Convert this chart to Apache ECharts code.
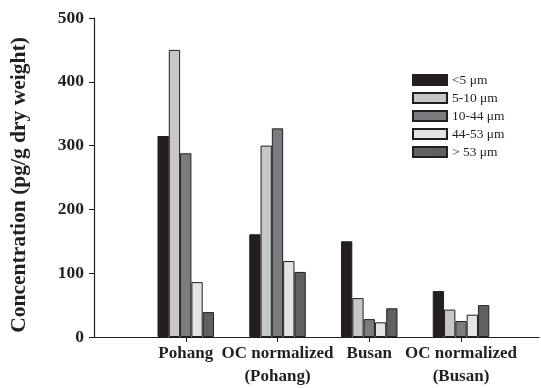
<!DOCTYPE html>
<html>
<head>
<meta charset="utf-8">
<script src="https://cdn.jsdelivr.net/npm/echarts@6/dist/echarts.min.js"></script>
<style>
  html, body { margin: 0; padding: 0; background: #fff; }
  #chart { width: 541px; height: 388px; }
</style>
</head>
<body>
<div id="chart"></div>
<script>
// sites along the x axis (positions 1..4)
var categories = ['Pohang', 'OC normalized\n(Pohang)', 'Busan', 'OC normalized\n(Busan)'];
var sizeClasses = ['<5 \u03bcm', '5-10 \u03bcm', '10-44 \u03bcm', '44-53 \u03bcm', '> 53 \u03bcm'];
var lt5 = [315, 161, 150, 72];
var s5to10 = [450, 300, 61, 43];
var s10to44 = [288, 327, 28, 25];
var s44to53 = [86, 119, 23, 35];
var gt53 = [39, 102, 45, 50];
var yTicks = [0, 100, 200, 300, 400, 500];
var colors = ['#231f20', '#c6c7c9', '#7b7c80', '#e3e4e6', '#606062'];

var serif = '"Liberation Serif", "Times New Roman", serif';
var ink = '#231f20';

var toPoints = function (vals) {
    return vals.map(function (v, i) { return [i + 1, v]; });
};

var seriesVals = [lt5, s5to10, s10to44, s44to53, gt53];

var chart = echarts.init(document.getElementById('chart'));
chart.setOption({
    animation: false,
    grid: { left: 91.5, right: 2, top: 18, bottom: 46 },
    legend: {
        orient: 'vertical',
        left: 407,
        top: 68,
        itemWidth: 34,
        itemHeight: 10,
        itemGap: 4,
        icon: 'rect',
        data: sizeClasses,
        textStyle: { fontFamily: serif, fontSize: 13.5, color: ink }
    },
    xAxis: {
        type: 'value',
        min: 0,
        max: 4.85,
        interval: 1,
        splitLine: { show: false },
        axisLine: { show: true, lineStyle: { color: ink, width: 1.2 } },
        axisTick: { show: true, customValues: [1, 2, 3, 4], length: 5, lineStyle: { color: ink } },
        axisLabel: {
            customValues: [1, 2, 3, 4],
            formatter: function (v) { return categories[Math.round(v) - 1] || ''; },
            fontFamily: serif,
            fontWeight: 'bold',
            fontSize: 17,
            lineHeight: 23,
            margin: 5,
            color: ink
        }
    },
    yAxis: {
        type: 'value',
        min: yTicks[0],
        max: yTicks[yTicks.length - 1],
        interval: 100,
        name: 'Concentration (pg/g dry weight)',
        nameLocation: 'middle',
        nameGap: 64,
        nameTextStyle: { fontFamily: serif, fontWeight: 'bold', fontSize: 21.5, color: ink, padding: [0, 15, 0, 0] },
        splitLine: { show: false },
        axisLine: { show: true, lineStyle: { color: ink, width: 1.2 } },
        axisTick: { show: true, length: 5, lineStyle: { color: ink } },
        axisLabel: { fontFamily: serif, fontWeight: 'bold', fontSize: 17.5, margin: 10, color: ink }
    },
    series: seriesVals.map(function (vals, k) {
        return {
            name: sizeClasses[k],
            type: 'bar',
            barWidth: 11.3,
            barGap: '0%',
            data: toPoints(vals),
            itemStyle: { color: colors[k], borderColor: ink, borderWidth: 1 }
        };
    })
});
</script>
</body>
</html>
